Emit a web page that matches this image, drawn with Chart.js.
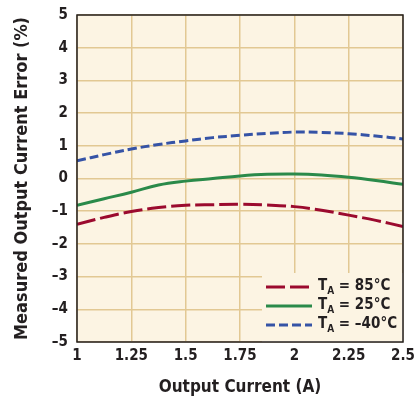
<!DOCTYPE html>
<html>
<head>
<meta charset="utf-8">
<script src="https://cdn.jsdelivr.net/npm/chart.js@4"></script>
<style>
  html, body { margin: 0; padding: 0; background: #fff; }
  #wrap { width: 416px; height: 398px; }
</style>
</head>
<body>
<div id="wrap"><canvas id="c" width="416" height="398"></canvas></div>
<script>
// output current (A)
var current = [1, 1.125, 1.25, 1.375, 1.5, 1.625, 1.75, 1.875, 2, 2.125, 2.25, 2.375, 2.5];
// measured error (%) per temperature
var err85 = [-1.40, -1.19, -1.01, -0.89, -0.82, -0.80, -0.79, -0.81, -0.86, -0.97, -1.12, -1.28, -1.47];
var err25 = [-0.82, -0.62, -0.42, -0.20, -0.08, 0.00, 0.08, 0.13, 0.14, 0.11, 0.04, -0.06, -0.18];
var errM40 = [0.54, 0.73, 0.90, 1.04, 1.15, 1.25, 1.32, 1.38, 1.42, 1.41, 1.37, 1.30, 1.21];
var legendTemps = ['85°C', '25°C', '\u201340°C'];

var FONT = '"DejaVu Sans Condensed", "Liberation Sans Narrow", "Liberation Sans", sans-serif';
var BG = '#fcf4e3';
var GRID = '#e2c893';
var INK = '#231f20';
var RED = '#9b0a2e', GREEN = '#2a8a4a', BLUE = '#3553a6';

function pts(ys) {
  return current.map(function (x, i) { return { x: x, y: ys[i] }; });
}

var bgPlugin = {
  id: 'bg',
  beforeDraw: function (chart) {
    var a = chart.chartArea, ctx = chart.ctx;
    ctx.save();
    ctx.fillStyle = BG;
    ctx.fillRect(a.left, a.top, a.right - a.left, a.bottom - a.top);
    ctx.restore();
  },
  afterDraw: function (chart) {
    var a = chart.chartArea, ctx = chart.ctx;
    ctx.save();
    // legend box in lower right
    var bx = 262, by = 273;
    ctx.fillStyle = BG;
    ctx.fillRect(bx, by, a.right - bx, a.bottom - by);
    var styles = [
      { c: RED, d: [19, 5] },
      { c: GREEN, d: [] },
      { c: BLUE, d: [9, 4] }
    ];
    var rows = [287, 306, 325];
    for (var i = 0; i < 3; i++) {
      ctx.strokeStyle = styles[i].c;
      ctx.lineWidth = 3;
      ctx.setLineDash(styles[i].d);
      ctx.beginPath();
      ctx.moveTo(266, rows[i]);
      ctx.lineTo(312, rows[i]);
      ctx.stroke();
      ctx.setLineDash([]);
      ctx.fillStyle = INK;
      ctx.textBaseline = 'middle';
      ctx.font = 'bold 15px ' + FONT;
      ctx.fillText('T', 318, rows[i] - 1);
      var tw = ctx.measureText('T').width;
      ctx.font = 'bold 10px ' + FONT;
      ctx.fillText('A', 318 + tw, rows[i] + 4);
      var aw = ctx.measureText('A').width;
      ctx.font = 'bold 15px ' + FONT;
      ctx.fillText(' = ' + legendTemps[i], 318 + tw + aw, rows[i] - 1);
    }
    // frame
    ctx.strokeStyle = INK;
    ctx.lineWidth = 1.5;
    ctx.strokeRect(a.left, a.top, a.right - a.left, a.bottom - a.top);
    ctx.restore();
  }
};

new Chart(document.getElementById('c'), {
  type: 'line',
  data: {
    datasets: [
      { label: 'TA = 85°C', data: pts(err85), borderColor: RED, borderWidth: 3, borderDash: [19, 5], pointRadius: 0, tension: 0.4, fill: false },
      { label: 'TA = 25°C', data: pts(err25), borderColor: GREEN, borderWidth: 3, pointRadius: 0, tension: 0.4, fill: false },
      { label: 'TA = -40°C', data: pts(errM40), borderColor: BLUE, borderWidth: 3, borderDash: [9, 4], pointRadius: 0, tension: 0.4, fill: false }
    ]
  },
  options: {
    responsive: false,
    animation: false,
    layout: { padding: { top: 15, right: 13, left: 0, bottom: 0 } },
    plugins: { legend: { display: false }, tooltip: { enabled: false } },
    scales: {
      x: {
        type: 'linear', min: 1, max: 2.5,
        ticks: { stepSize: 0.25, color: INK, font: { family: FONT, size: 15, weight: 'bold' }, padding: 5, maxRotation: 0,
          callback: function (v) { return String(v); } },
        grid: { color: GRID, lineWidth: 1.5, drawTicks: false },
        border: { display: false },
        title: { display: true, text: 'Output Current (A)', color: INK, font: { family: FONT, size: 17, weight: 'bold' }, padding: { top: 8, bottom: 0 } },
        afterFit: function (s) { s.height = 56; s.paddingLeft = 0; s.paddingRight = 0; }
      },
      y: {
        min: -5, max: 5,
        ticks: { stepSize: 1, color: INK, font: { family: FONT, size: 15, weight: 'bold' }, padding: 9,
          callback: function (v) { return String(v).replace('-', '\u2013'); } },
        grid: { color: GRID, lineWidth: 1.5, drawTicks: false },
        border: { display: false },
        title: { display: true, text: 'Measured Output Current Error (%)', color: INK, font: { family: FONT, size: 18, weight: 'bold' }, padding: { top: 12, bottom: 4 } },
        afterFit: function (s) { s.width = 77; s.paddingTop = 0; s.paddingBottom = 0; }
      }
    }
  },
  plugins: [bgPlugin]
});
</script>
</body>
</html>
